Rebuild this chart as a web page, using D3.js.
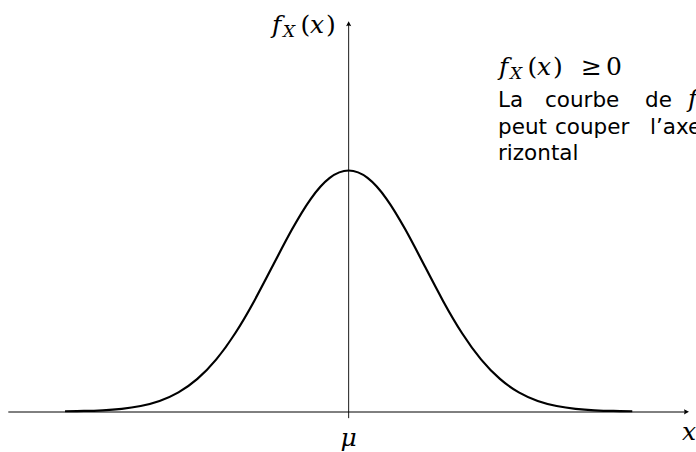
<!DOCTYPE html>
<html>
<head>
<meta charset="utf-8">
<script src="https://cdn.jsdelivr.net/npm/d3@7"></script>
<style>
  body { margin: 0; background: #fff; }
  svg { display: block; }
</style>
</head>
<body>
<svg id="chart" width="696" height="452"></svg>
<script>
// Density curve sampled every quarter standard deviation around the mean
const xValues = [-3.75, -3.5, -3.25, -3, -2.75, -2.5, -2.25, -2, -1.75, -1.5, -1.25, -1, -0.75, -0.5, -0.25, 0,
                 0.25, 0.5, 0.75, 1, 1.25, 1.5, 1.75, 2, 2.25, 2.5, 2.75, 3, 3.25, 3.5, 3.75];
const densityValues = [0.0004, 0.0009, 0.0020, 0.0044, 0.0091, 0.0175, 0.0317, 0.0540, 0.0863, 0.1295, 0.1826,
                       0.2420, 0.3011, 0.3521, 0.3867, 0.3989, 0.3867, 0.3521, 0.3011, 0.2420, 0.1826, 0.1295,
                       0.0863, 0.0540, 0.0317, 0.0175, 0.0091, 0.0044, 0.0020, 0.0009, 0.0004];
const xAxisRange = [-4.5, 4.5];
const yAxisRange = [-0.011, 0.646];
const meanValue = 0;
const meanLabel = "μ";
const xAxisLabel = "x";
const noteLines = [
  ["La", "courbe", "de"],
  ["peut", "couper", "l’axe"],
  ["rizontal"]
];

const svg = d3.select("#chart");

const x = d3.scaleLinear().domain(xAxisRange).range([8.3, 689]);
const y = d3.scaleLinear().domain([0, 0.3989]).range([411.5, 170.5]);

// Axes
svg.append("line")
  .attr("x1", x(xAxisRange[0])).attr("x2", x(xAxisRange[1]) - 3)
  .attr("y1", 412).attr("y2", 412)
  .attr("stroke", "#000").attr("stroke-width", 1);

svg.append("line")
  .attr("x1", x(meanValue)).attr("x2", x(meanValue))
  .attr("y1", y(yAxisRange[0])).attr("y2", y(yAxisRange[1]) + 3)
  .attr("stroke", "#000").attr("stroke-width", 0.9);

// Arrow tips
const tipX = x(xAxisRange[1]), tipY = 411.8;
svg.append("path")
  .attr("d", `M${tipX},${tipY} L${tipX - 5},${tipY - 2.6} Q${tipX - 3.8},${tipY} ${tipX - 5},${tipY + 2.6} Z`)
  .attr("fill", "#000");
const topX = x(meanValue), topY = y(yAxisRange[1]);
svg.append("path")
  .attr("d", `M${topX},${topY} L${topX - 2.6},${topY + 5} Q${topX},${topY + 3.8} ${topX + 2.6},${topY + 5} Z`)
  .attr("fill", "#000");

// Density curve
const line = d3.line()
  .x((d, i) => x(xValues[i]))
  .y(d => y(d))
  .curve(d3.curveNatural);

svg.append("path")
  .datum(densityValues)
  .attr("d", line)
  .attr("fill", "none")
  .attr("stroke", "#000")
  .attr("stroke-width", 2.2);

// Math labels, glyph by glyph
const mathFont = "'DejaVu Serif', 'Liberation Serif', serif";
function mathLabel(x0, baseline, parts) {
  const t = svg.append("text")
    .attr("font-family", mathFont)
    .attr("fill", "#000");
  parts.forEach(p => {
    t.append("tspan")
      .attr("x", x0 + p.dx)
      .attr("y", baseline + (p.dy || 0))
      .attr("font-size", p.size || 25)
      .attr("font-style", p.italic ? "italic" : "normal")
      .text(p.s);
  });
  return t;
}

const fxParts = [
  { s: "f", dx: 0, italic: true },
  { s: "X", dx: 11, dy: 4, size: 17, italic: true },
  { s: "(", dx: 28.5 },
  { s: "x", dx: 38, italic: true },
  { s: ")", dx: 54 }
];
mathLabel(272, 33, fxParts);
mathLabel(499, 75, fxParts.concat([
  { s: "≥", dx: 82 },
  { s: "0", dx: 107 }
]));

// Axis labels
svg.append("text")
  .attr("x", x(meanValue)).attr("y", 446)
  .attr("text-anchor", "middle")
  .attr("font-family", mathFont).attr("font-style", "italic").attr("font-size", 25)
  .text(meanLabel);

svg.append("text")
  .attr("x", 682).attr("y", 440)
  .attr("font-family", mathFont).attr("font-style", "italic").attr("font-size", 25)
  .text(xAxisLabel);

// Note text (justified lines)
const sansFont = "'DejaVu Sans', 'Noto Sans', sans-serif";
const wordX = [
  [498, 545, 645],
  [498, 555, 650],
  [498]
];
const baselines = [107, 133.5, 160];
noteLines.forEach((words, li) => {
  words.forEach((w, wi) => {
    svg.append("text")
      .attr("x", wordX[li][wi]).attr("y", baselines[li])
      .attr("font-family", sansFont).attr("font-size", 21.5)
      .attr("fill", "#000")
      .text(w);
  });
});
mathLabel(688, 107, [{ s: "f", dx: 0, italic: true }]);
</script>
</body>
</html>
